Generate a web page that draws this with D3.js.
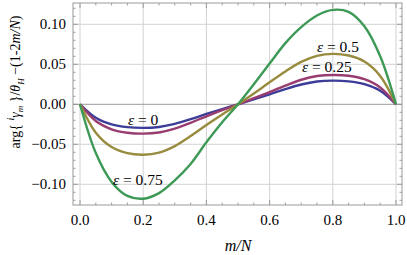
<!DOCTYPE html>
<html>
<head>
<meta charset="utf-8">
<script src="https://cdn.jsdelivr.net/npm/d3@7"></script>
<style>
  body { margin: 0; background: #fff; }
  svg, svg text { font-family: "Liberation Serif", "Times New Roman", "DejaVu Serif", serif !important; }
</style>
</head>
<body>
<div class="container"></div>
<script>
// m/N sample positions
const xs = [0, 0.05, 0.1, 0.15, 0.2, 0.25, 0.3, 0.35, 0.4, 0.45, 0.5,
  0.55, 0.6, 0.65, 0.7, 0.75, 0.8, 0.85, 0.9, 0.95, 1];

const eps0 = [0, -0.0168, -0.0251, -0.0286, -0.0295, -0.0283, -0.0245, -0.0186, -0.0121, -0.0059, 0,
  0.0062, 0.0125, 0.019, 0.0247, 0.0285, 0.0296, 0.0287, 0.0252, 0.017, 0];
const eps025 = [0, -0.0209, -0.0312, -0.0356, -0.0367, -0.0352, -0.0305, -0.0231, -0.015, -0.0073, 0,
  0.0076, 0.0153, 0.0233, 0.0307, 0.0353, 0.0367, 0.0357, 0.0314, 0.0211, 0];
const eps05 = [0, -0.0355, -0.0535, -0.0611, -0.063, -0.0605, -0.0523, -0.0397, -0.0258, -0.0126, 0,
  0.0135, 0.0275, 0.041, 0.053, 0.0605, 0.063, 0.061, 0.0535, 0.0355, 0];
const eps075 = [0, -0.061, -0.097, -0.1145, -0.118, -0.111, -0.095, -0.0745, -0.0475, -0.0225, 0,
  0.025, 0.051, 0.0765, 0.0965, 0.111, 0.118, 0.1155, 0.0975, 0.06, 0];

const series = [
  { name: "0", values: eps0, color: "#3d3d99" },
  { name: "0.25", values: eps025, color: "#993d71" },
  { name: "0.5", values: eps05, color: "#998b3d" },
  { name: "0.75", values: eps075, color: "#3d9956" },
];

const xTicks = [0, 0.2, 0.4, 0.6, 0.8, 1];
const yTicks = [-0.1, -0.05, 0, 0.05, 0.1];

const width = 407;
const height = 255;
const frame = { left: 73, right: 402, top: 3, bottom: 205 };
const serif = "Liberation Serif, Times New Roman, DejaVu Serif, serif";

const xScale = d3.scaleLinear().domain([0, 1]).range([80, 396]);
const yScale = d3.scaleLinear().domain([-0.1, 0.1]).range([184.3, 24.3]);

const svg = d3
  .select(".container")
  .append("svg")
  .attr("width", width)
  .attr("height", height)
  .attr("font-family", serif);

// grid
const grid = svg.append("g").attr("stroke", "#d2d2d2").attr("stroke-width", 1);
grid.selectAll("line.vx")
  .data(xTicks)
  .enter()
  .append("line")
  .attr("x1", (d) => xScale(d))
  .attr("x2", (d) => xScale(d))
  .attr("y1", frame.top)
  .attr("y2", frame.bottom);
grid.selectAll("line.hy")
  .data(yTicks)
  .enter()
  .append("line")
  .attr("x1", frame.left)
  .attr("x2", frame.right)
  .attr("y1", (d) => yScale(d))
  .attr("y2", (d) => yScale(d))
  .attr("stroke", (d) => (d === 0 ? "#999" : null));

// ticks on all four sides, pointing in
const xMinor = d3.range(0, 1.001, 0.05).filter((v) => Math.abs(v * 5 - Math.round(v * 5)) > 1e-6);
const yMinor = d3.range(-0.12, 0.1201, 0.01).filter((v) => Math.abs(v * 20 - Math.round(v * 20)) > 1e-6);
const ticks = svg.append("g").attr("stroke", "#888").attr("stroke-width", 0.8);
const addX = (vals, len) => {
  vals.forEach((v) => {
    const x = xScale(v);
    ticks.append("line").attr("x1", x).attr("x2", x).attr("y1", frame.bottom).attr("y2", frame.bottom - len);
    ticks.append("line").attr("x1", x).attr("x2", x).attr("y1", frame.top).attr("y2", frame.top + len);
  });
};
const addY = (vals, len) => {
  vals.forEach((v) => {
    const y = yScale(v);
    ticks.append("line").attr("x1", frame.left).attr("x2", frame.left + len).attr("y1", y).attr("y2", y);
    ticks.append("line").attr("x1", frame.right).attr("x2", frame.right - len).attr("y1", y).attr("y2", y);
  });
};
addX(xTicks, 5);
addX(xMinor, 2.5);
addY(yTicks, 5);
addY(yMinor, 2.5);

// frame
svg.append("rect")
  .attr("x", frame.left)
  .attr("y", frame.top)
  .attr("width", frame.right - frame.left)
  .attr("height", frame.bottom - frame.top)
  .attr("fill", "none")
  .attr("stroke", "#999")
  .attr("stroke-width", 1);

// tick labels
const fmt2 = d3.format(".2f");
svg.append("g")
  .selectAll("text")
  .data(yTicks)
  .enter()
  .append("text")
  .attr("x", 66)
  .attr("y", (d) => yScale(d) + 5)
  .attr("text-anchor", "end")
  .attr("font-size", 15)
  .text((d) => (d < 0 ? "\u2212" : "") + fmt2(Math.abs(d)));

svg.append("g")
  .selectAll("text")
  .data(xTicks)
  .enter()
  .append("text")
  .attr("x", (d) => xScale(d))
  .attr("y", 225)
  .attr("text-anchor", "middle")
  .attr("font-size", 15)
  .text((d) => d3.format(".1f")(d));

// curves
const line = d3
  .line()
  .x((d, i) => xScale(xs[i]))
  .y((d) => yScale(d))
  .curve(d3.curveCatmullRom.alpha(0.5));

svg.append("g")
  .selectAll("path")
  .data(series)
  .enter()
  .append("path")
  .attr("d", (d) => line(d.values))
  .attr("fill", "none")
  .attr("stroke", (d) => d.color)
  .attr("stroke-width", 2.4);

// curve labels
const labels = [
  { text: "0", x: 128, y: 125 },
  { text: "0.25", x: 302, y: 72 },
  { text: "0.5", x: 317, y: 52 },
  { text: "0.75", x: 113, y: 185 },
];
const lab = svg.append("g")
  .selectAll("text")
  .data(labels)
  .enter()
  .append("text")
  .attr("x", (d) => d.x)
  .attr("y", (d) => d.y)
  .attr("font-size", 15.5);
lab.append("tspan").attr("font-style", "italic").text("\u03b5");
lab.append("tspan").text((d) => " = " + d.text);

// axis titles
svg.append("text")
  .attr("x", xScale(0.5))
  .attr("y", 251)
  .attr("text-anchor", "middle")
  .attr("font-size", 16)
  .attr("font-style", "italic")
  .text("m/N");

const yl = svg.append("text")
  .attr("transform", "translate(20,82) rotate(-90)")
  .attr("text-anchor", "middle")
  .attr("font-size", 14);
yl.append("tspan").text("arg{ ");
yl.append("tspan").attr("font-size", 10).attr("font-style", "italic").attr("dy", -6).text("i");
yl.append("tspan").attr("font-style", "italic").attr("dy", 6).text("\u03b3");
yl.append("tspan").attr("font-size", 9).attr("font-style", "italic").attr("dy", 3).text("m");
yl.append("tspan").attr("dy", -3).text(" }/");
yl.append("tspan").attr("font-style", "italic").text("\u03b8");
yl.append("tspan").attr("font-size", 9).attr("font-style", "italic").attr("dy", 4).text("H");
yl.append("tspan").attr("dy", -4).text("  \u2212(1-2");
yl.append("tspan").attr("font-style", "italic").text("m/N");
yl.append("tspan").text(")");
</script>
</body>
</html>
